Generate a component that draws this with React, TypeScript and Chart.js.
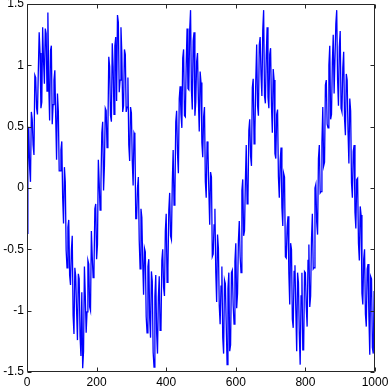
import React, { useEffect, useRef } from "react";
import { Chart, registerables } from "chart.js";

Chart.register(...registerables);

// Sample spacing along the x axis (sample index units)
const sampleStep = 5;

// Noisy signal values at x = 0, 5, 10, ... 1000
const signalValues: number[] = [
  -0.37, 0.50, 0.05, 0.56, 0.27, 0.90, 0.60, 1.27, 0.65, 1.31,
  0.85, 1.26, 1.43, 0.55, 1.16, 0.68, 0.96, 0.23, 0.63, 0.14,
  0.38, -0.29, 0.05, -0.65, -0.26, -0.79, -0.39, -1.19, -0.72, -1.24,
  -0.74, -1.37, -1.47, -0.64, -1.18, -0.59, -0.97, -0.35, -0.73, -0.17,
  -0.58, 0.23, -0.18, 0.45, -0.02, 0.65, 0.33, 1.07, 0.59, 1.18,
  0.60, 1.23, 1.41, 0.78, 1.31, 0.62, 1.13, 0.62, 0.90, 0.22,
  0.61, 0.02, 0.43, -0.25, 0.09, -0.66, -0.24, -0.87, -0.52, -1.18,
  -0.58, -1.22, -0.76, -1.46, -0.71, -1.35, -0.72, -1.15, -0.50, -0.88,
  -0.21, -0.65, -0.04, -0.42, 0.31, -0.07, 0.63, 0.12, 0.83, 0.49,
  1.13, 0.58, 1.30, 0.80, 1.45, 0.64, 1.27, 0.70, 1.10, 0.46,
  0.86, 0.25, 0.66, -0.08, 0.31, -0.30, 0.09, -0.54, -0.17, -0.93,
  -0.49, -1.11, -0.64, -1.35, -0.78, -1.44, -0.69, -1.28, -0.67, -1.11,
  -0.45, -0.86, -0.27, -0.69, 0.07, -0.35, 0.35, -0.08, 0.56, 0.18,
  0.89, 0.47, 1.17, 0.59, 1.23, 0.75, 1.45, 0.69, 1.31, 0.65,
  1.14, 0.45, 0.88, 0.24, 0.64, -0.08, 0.33, -0.31, 0.09, -0.57,
  -0.23, -0.95, -0.50, -1.14, -0.63, -1.33, -0.77, -1.44, -0.69, -1.32,
  -0.69, -1.13, -0.46, -0.88, -0.21, -0.65, 0.03, -0.38, 0.35, -0.03,
  0.66, 0.21, 0.88, 0.49, 1.16, 0.60, 1.25, 0.77, 1.45, 0.67,
  1.28, 0.62, 1.11, 0.43, 0.88, 0.20, 0.63, -0.08, 0.35, -0.33,
  0.08, -0.59, -0.22, -0.95, -0.50, -1.13, -0.62, -1.36, -0.74, -1.35,
  -0.89,
];

// Values read at the in-between samples x = 2.5, 7.5, ... 997.5
const midValues: number[] = [
  0.17, 0.17, 0.62, 0.35, 0.92, 0.65, 0.95, 1.10, 0.70, 1.04,
  1.30, 0.79, 0.85, 1.12, 0.52, 0.88, 0.57, 0.77, 0.14, 0.31,
  -0.08, 0.17, -0.51, -0.32, -0.71, -0.51, -1.04, -0.65, -1.00, -0.70,
  -1.21, -0.85, -1.33, -0.87, -1.01, -0.62, -1.00, -0.56, -0.67, -0.13,
  -0.46, 0.04, 0.04, 0.54, 0.18, 0.63, 0.49, 0.99, 0.54, 0.99,
  1.16, 0.71, 1.35, 0.88, 1.10, 0.67, 1.09, 0.66, 0.35, 0.66,
  0.22, 0.45, -0.25, 0.00, -0.43, -0.17, -0.60, -0.49, -1.05, -0.64,
  -1.06, -0.68, -1.34, -0.88, -1.18, -0.89, -1.16, -0.59, -0.81, -0.35,
  -0.77, -0.18, -0.39, 0.04, -0.14, 0.54, 0.28, 0.73, 0.60, 1.06,
  0.59, 1.01, 0.81, 1.29, 0.80, 1.20, 0.59, 1.03, 0.72, 0.95,
  0.37, 0.58, 0.05, 0.38, -0.02, 0.13, -0.56, -0.30, -0.69, -0.38,
  -0.96, -0.80, -1.22, -0.75, -1.11, -0.82, -1.33, -0.69, -0.96, -0.60,
  -0.98, -0.43, -0.56, -0.02, -0.39, 0.05, -0.13, 0.47, 0.26, 0.82,
  0.36, 0.89, 0.67, 1.17, 0.92, 1.29, 0.75, 1.08, 0.74, 1.09,
  0.67, 0.97, 0.28, 0.60, 0.09, 0.22, -0.16, 0.12, -0.56, -0.32,
  -0.70, -0.45, -1.07, -0.68, -1.00, -0.69, -1.19, -0.88, -1.32, -0.68,
  -0.97, -0.59, -0.97, -0.42, -0.66, 0.00, -0.28, 0.24, -0.04, 0.37,
  0.18, 0.84, 0.52, 1.00, 0.56, 1.03, 0.77, 1.34, 0.88, 1.15,
  0.65, 0.98, 0.56, 0.93, 0.46, 0.73, 0.04, 0.30, -0.20, 0.07,
  -0.45, -0.15, -0.86, -0.58, -1.03, -0.66, -1.05, -0.72, -1.30, -0.84,
];

const xTickValues = [0, 200, 400, 600, 800, 1000];
const yTickValues = [-1.5, -1, -0.5, 0, 0.5, 1, 1.5];

const FONT = { family: "'Liberation Sans', Arial, Helvetica, sans-serif", size: 12 };

const matlabBox = {
  id: "matlabBox",
  afterDatasetsDraw(chart: any) {
    const { ctx, chartArea: a, scales } = chart;
    const L = Math.round(a.left) + 0.5;
    const R = Math.round(a.right) - 0.5;
    const T = Math.round(a.top) + 0.5;
    const B = Math.round(a.bottom) - 0.5;
    const tl = 4;
    ctx.save();
    ctx.strokeStyle = "#262626";
    ctx.lineWidth = 1;
    ctx.beginPath();
    ctx.rect(L, T, R - L, B - T);
    for (const v of xTickValues) {
      const px = Math.round(scales.x.getPixelForValue(v)) + 0.5;
      ctx.moveTo(px, B);
      ctx.lineTo(px, B - tl);
      ctx.moveTo(px, T);
      ctx.lineTo(px, T + tl);
    }
    for (const v of yTickValues) {
      const py = Math.round(scales.y.getPixelForValue(v)) + 0.5;
      ctx.moveTo(L, py);
      ctx.lineTo(L + tl, py);
      ctx.moveTo(R, py);
      ctx.lineTo(R - tl, py);
    }
    ctx.stroke();
    ctx.restore();
  },
};

export default function App() {
  const canvasRef = useRef<HTMLCanvasElement | null>(null);

  useEffect(() => {
    const canvas = canvasRef.current;
    if (!canvas) return;
    const points: { x: number; y: number }[] = [];
    signalValues.forEach((y, i) => {
      points.push({ x: i * sampleStep, y });
      if (i < midValues.length) points.push({ x: i * sampleStep + sampleStep / 2, y: midValues[i] });
    });
    const chart = new Chart(canvas, {
      type: "line",
      data: {
        datasets: [
          {
            data: points,
            borderColor: "#0000ff",
            borderWidth: 1.3,
            pointRadius: 0,
            tension: 0,
            fill: false,
          },
        ],
      },
      options: {
        animation: false,
        responsive: false,
        layout: { padding: { top: 4, right: 15, left: 0, bottom: 0 } },
        plugins: { legend: { display: false }, tooltip: { enabled: false } },
        scales: {
          x: {
            type: "linear",
            min: 0,
            max: 1000,
            grid: { display: false, drawTicks: false },
            border: { display: false },
            afterBuildTicks: (scale: any) => {
              scale.ticks = xTickValues.map((v) => ({ value: v }));
            },
            afterFit: (scale: any) => {
              scale.height = 17;
              scale.paddingLeft = 0;
              scale.paddingRight = 0;
            },
            ticks: {
              autoSkip: false,
              maxRotation: 0,
              padding: 3,
              color: "#000",
              font: FONT,
              callback: (v: any) => String(v),
            },
          },
          y: {
            type: "linear",
            min: -1.5,
            max: 1.5,
            grid: { display: false, drawTicks: false },
            border: { display: false },
            afterBuildTicks: (scale: any) => {
              scale.ticks = yTickValues.map((v) => ({ value: v }));
            },
            afterFit: (scale: any) => {
              scale.width = 27;
              scale.paddingTop = 0;
              scale.paddingBottom = 0;
            },
            ticks: {
              autoSkip: false,
              padding: 3,
              color: "#000",
              font: FONT,
              callback: (v: any) => String(v),
            },
          },
        },
      },
      plugins: [matlabBox],
    });
    return () => chart.destroy();
  }, []);

  return (
    <div style={{ position: "fixed", left: 0, top: 0, width: 390, height: 389, background: "#fff" }}>
      <canvas ref={canvasRef} width={390} height={389} style={{ display: "block" }} />
    </div>
  );
}
